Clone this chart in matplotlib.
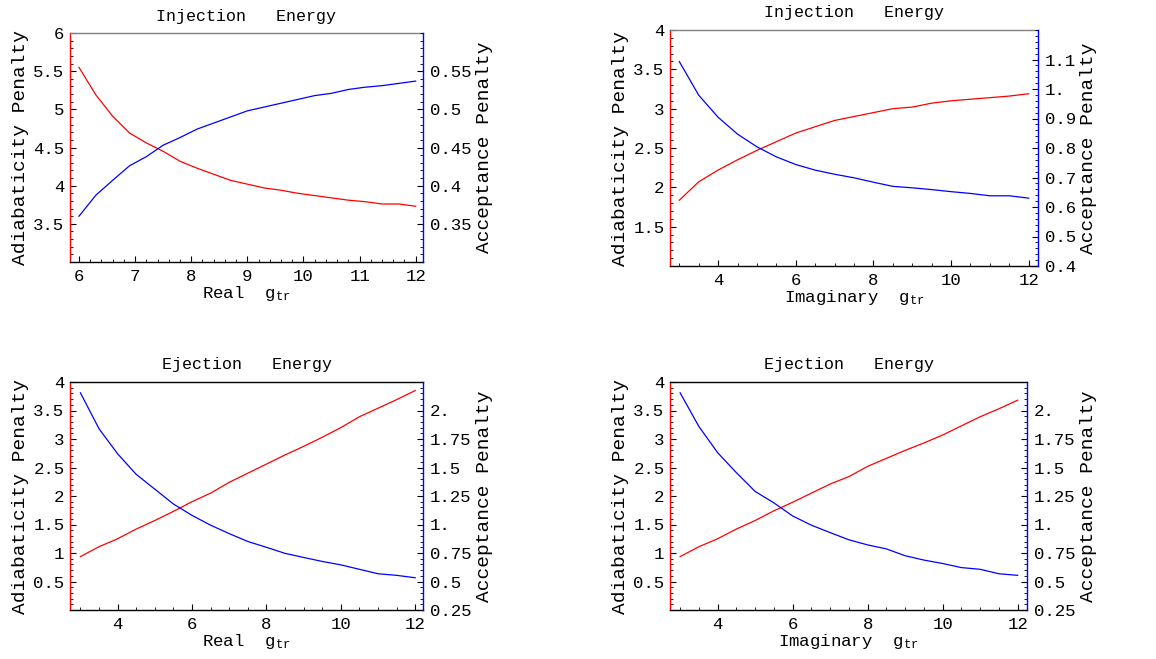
import matplotlib
matplotlib.use("Agg")
import matplotlib.pyplot as plt
from matplotlib.ticker import FixedLocator, FixedFormatter, MultipleLocator

plt.rcParams['font.family'] = ['Liberation Mono', 'DejaVu Sans Mono']
plt.rcParams['mathtext.fontset'] = 'custom'
plt.rcParams['mathtext.rm'] = 'Liberation Mono'
plt.rcParams['mathtext.it'] = 'Liberation Mono'

# ---------------- data ----------------
# Top-left: Injection energy, real gamma_tr
x_inj_real = [6.0, 6.3, 6.6, 6.9, 7.2, 7.5, 7.8, 8.1, 8.4, 8.7, 9.0,
              9.3, 9.6, 9.9, 10.2, 10.5, 10.8, 11.1, 11.4, 11.7, 12.0]
adiab_inj_real = [5.55, 5.19, 4.91, 4.69, 4.56, 4.45, 4.32, 4.23, 4.15, 4.07, 4.02,
                  3.97, 3.94, 3.90, 3.87, 3.84, 3.81, 3.79, 3.76, 3.76, 3.73]
accept_inj_real = [0.360, 0.3875, 0.407, 0.426, 0.438, 0.453, 0.463, 0.474, 0.482, 0.490, 0.498,
                   0.503, 0.508, 0.513, 0.518, 0.521, 0.526, 0.529, 0.531, 0.534, 0.537]

# Top-right: Injection energy, imaginary gamma_tr
x_inj_imag = [3.0, 3.5, 4.0, 4.5, 5.0, 5.5, 6.0, 6.5, 7.0, 7.5, 8.0,
              8.5, 9.0, 9.5, 10.0, 10.5, 11.0, 11.5, 12.0]
adiab_inj_imag = [1.836, 2.07, 2.22, 2.35, 2.47, 2.58, 2.69, 2.77, 2.85, 2.90, 2.95,
                  3.00, 3.02, 3.07, 3.10, 3.12, 3.14, 3.16, 3.19]
accept_inj_imag = [1.093, 0.979, 0.904, 0.847, 0.804, 0.770, 0.744, 0.725, 0.711, 0.699, 0.684,
                   0.670, 0.665, 0.659, 0.652, 0.646, 0.638, 0.638, 0.630]

# Bottom-left: Ejection energy, real gamma_tr
x_ej_real = [3.0, 3.5, 4.0, 4.5, 5.0, 5.5, 6.0, 6.5, 7.0, 7.5, 8.0,
             8.5, 9.0, 9.5, 10.0, 10.5, 11.0, 11.5, 12.0]
adiab_ej_real = [0.937, 1.11, 1.25, 1.42, 1.57, 1.73, 1.90, 2.05, 2.24, 2.40, 2.56,
                 2.72, 2.87, 3.03, 3.20, 3.39, 3.54, 3.69, 3.85]
accept_ej_real = [2.155, 1.84, 1.62, 1.44, 1.31, 1.18, 1.08, 0.994, 0.92, 0.851, 0.80,
                  0.747, 0.711, 0.676, 0.646, 0.607, 0.568, 0.554, 0.533]

# Bottom-right: Ejection energy, imaginary gamma_tr
x_ej_imag = [3.0, 3.5, 4.0, 4.5, 5.0, 5.5, 6.0, 6.5, 7.0, 7.5, 8.0,
             8.5, 9.0, 9.5, 10.0, 10.5, 11.0, 11.5, 12.0]
adiab_ej_imag = [0.937, 1.11, 1.25, 1.42, 1.57, 1.74, 1.89, 2.05, 2.21, 2.34, 2.52,
                 2.66, 2.80, 2.93, 3.07, 3.23, 3.39, 3.53, 3.68]
accept_ej_imag = [2.155, 1.86, 1.63, 1.455, 1.29, 1.19, 1.075, 0.994, 0.929, 0.866, 0.821,
                  0.786, 0.726, 0.688, 0.658, 0.622, 0.607, 0.568, 0.554]

titles = ["Injection   Energy", "Injection   Energy", "Ejection   Energy", "Ejection   Energy"]
xlabel_words = ["Real", "Imaginary", "Real", "Imaginary"]

# tick labels
xt_tl = [6, 7, 8, 9, 10, 11, 12]
xt_other = [4, 6, 8, 10, 12]
yl_tl = [3.5, 4, 4.5, 5, 5.5, 6]
yl_tl_lab = ["3.5", "4", "4.5", "5", "5.5", "6"]
yr_tl = [0.35, 0.4, 0.45, 0.5, 0.55]
yr_tl_lab = ["0.35", "0.4", "0.45", "0.5", "0.55"]
yl_tr = [1.5, 2, 2.5, 3, 3.5, 4]
yl_tr_lab = ["1.5", "2", "2.5", "3", "3.5", "4"]
yr_tr = [0.4, 0.5, 0.6, 0.7, 0.8, 0.9, 1.0, 1.1]
yr_tr_lab = ["0.4", "0.5", "0.6", "0.7", "0.8", "0.9", "1.", "1.1"]
yl_b = [0.5, 1, 1.5, 2, 2.5, 3, 3.5, 4]
yl_b_lab = ["0.5", "1", "1.5", "2", "2.5", "3", "3.5", "4"]
yr_b = [0.25, 0.5, 0.75, 1.0, 1.25, 1.5, 1.75, 2.0]
yr_b_lab = ["0.25", "0.5", "0.75", "1.", "1.25", "1.5", "1.75", "2."]

# ---------------- figure ----------------
W, H = 1156, 659
fig = plt.figure(figsize=(W / 100, H / 100), dpi=100)

def px_axes(x0, x1, y0, y1):
    return fig.add_axes([x0 / W, 1 - y1 / H, (x1 - x0) / W, (y1 - y0) / H])

panels = [
    dict(box=(70, 423, 33, 262), x=x_inj_real, a=adiab_inj_real, c=accept_inj_real,
         xlim=(5.84, 12.13), ylim=(3, 6), y2lim=(0.3, 0.6),
         xt=xt_tl, xmin=0.2, yl=yl_tl, yll=yl_tl_lab, ylmin=0.1,
         yr=yr_tl, yrl=yr_tl_lab, yrmin=0.01, topc='#808080'),
    dict(box=(670, 1038, 30, 266), x=x_inj_imag, a=adiab_inj_imag, c=accept_inj_imag,
         xlim=(2.76, 12.24), ylim=(1, 4), y2lim=(0.4, 1.2),
         xt=xt_other, xmin=0.5, yl=yl_tr, yll=yl_tr_lab, ylmin=0.1,
         yr=yr_tr, yrl=yr_tr_lab, yrmin=0.02, topc='#808080'),
    dict(box=(70, 423, 382, 610), x=x_ej_real, a=adiab_ej_real, c=accept_ej_real,
         xlim=(2.72, 12.21), ylim=(0, 4), y2lim=(0.25, 2.25),
         xt=xt_other, xmin=0.5, yl=yl_b, yll=yl_b_lab, ylmin=0.1,
         yr=yr_b, yrl=yr_b_lab, yrmin=0.05, topc='black'),
    dict(box=(670, 1027, 382, 610), x=x_ej_imag, a=adiab_ej_imag, c=accept_ej_imag,
         xlim=(2.73, 12.25), ylim=(0, 4), y2lim=(0.25, 2.25),
         xt=xt_other, xmin=0.5, yl=yl_b, yll=yl_b_lab, ylmin=0.1,
         yr=yr_b, yrl=yr_b_lab, yrmin=0.05, topc='black'),
]

for i, p in enumerate(panels):
    ax = px_axes(*p['box'])
    ax2 = ax.twinx()
    ax.plot(p['x'], p['a'], color='#ff0000', lw=0.9)
    ax2.plot(p['x'], p['c'], color='#0000ff', lw=0.9)
    ax.set_xlim(*p['xlim'])
    ax.set_ylim(*p['ylim'])
    ax2.set_ylim(*p['y2lim'])

    ax.xaxis.set_major_locator(FixedLocator(p['xt']))
    ax.xaxis.set_major_formatter(FixedFormatter([str(v) for v in p['xt']]))
    ax.xaxis.set_minor_locator(MultipleLocator(p['xmin']))
    ax.yaxis.set_major_locator(FixedLocator(p['yl']))
    ax.yaxis.set_major_formatter(FixedFormatter(p['yll']))
    ax.yaxis.set_minor_locator(MultipleLocator(p['ylmin']))
    ax2.yaxis.set_major_locator(FixedLocator(p['yr']))
    ax2.yaxis.set_major_formatter(FixedFormatter(p['yrl']))
    ax2.yaxis.set_minor_locator(MultipleLocator(p['yrmin']))

    ax.tick_params(axis='both', which='major', direction='in', length=4.5, width=0.8,
                   labelsize=12.5, colors='black', pad=4)
    ax.tick_params(axis='both', which='minor', direction='in', length=2.5, width=0.6)
    ax.tick_params(axis='x', which='major', pad=5)
    ax.tick_params(axis='y', which='both', right=False)
    ax.tick_params(axis='x', which='both', top=False)
    ax2.tick_params(axis='y', which='major', direction='in', length=4.5, width=0.8,
                    labelsize=12.5, pad=5)
    ax2.tick_params(axis='y', which='minor', direction='in', length=2.5, width=0.6)

    ax.spines['left'].set_color('#ff0000')
    ax.spines['right'].set_visible(False)
    ax.spines['top'].set_color(p['topc'])
    ax.spines['bottom'].set_color('black')
    ax2.spines['left'].set_visible(False)
    ax2.spines['top'].set_visible(False)
    ax2.spines['bottom'].set_visible(False)
    ax2.spines['right'].set_color('#0000ff')
    for s in ax.spines.values():
        s.set_linewidth(1.0)
    ax2.spines['right'].set_linewidth(1.0)

    ax.set_title(titles[i], fontsize=12, pad=9)
    ax.set_xlabel(xlabel_words[i] + "  $\\mathrm{g}_{\\mathrm{tr}}$", fontsize=12.5, labelpad=0)
    ax.set_ylabel("Adiabaticity Penalty", fontsize=14, labelpad=3)
    ax2.set_ylabel("Acceptance Penalty", fontsize=14, labelpad=3)

fig.savefig("out.png", dpi=100)
